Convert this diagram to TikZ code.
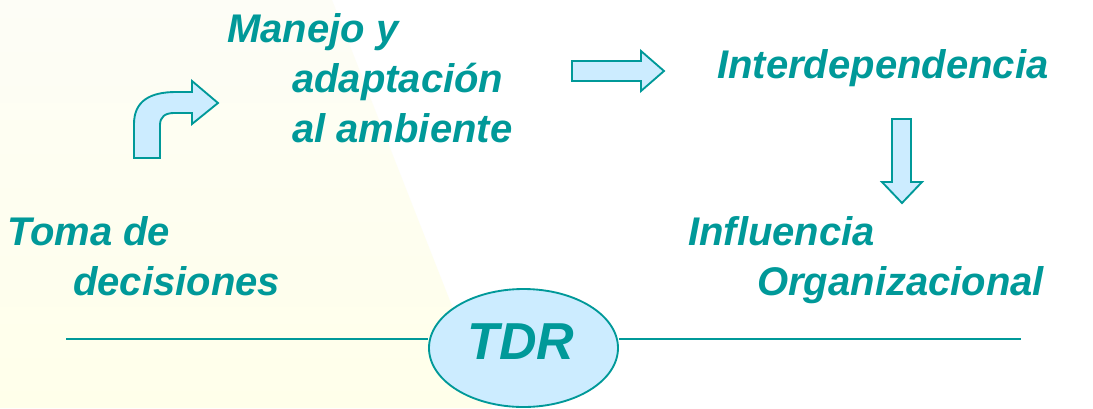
\documentclass[tikz,border=0pt]{standalone}
\usepackage{fontspec}
\setmainfont{Liberation Sans}
\usetikzlibrary{shapes.geometric}
\definecolor{tdrteal}{RGB}{0,153,153}
\definecolor{tdrblue}{RGB}{204,236,255}
\definecolor{creamtop}{RGB}{253,253,246}
\definecolor{creambot}{RGB}{255,255,234}

\begin{document}
\begin{tikzpicture}[x=0.75pt,y=-0.75pt,
    txt/.style={anchor=base west,inner sep=0pt,text=tdrteal,%
      font=\fontsize{30}{36}\selectfont\bfseries\itshape},
    blk/.style={draw=tdrteal,fill=tdrblue,line width=1.4pt,line join=miter}]
      \useasboundingbox (0,0) rectangle (1093,408) ;
      \fill[white] (0,0) rectangle (1093,408) ;
      \shade[top color=creamtop,bottom color=creambot] %
      (0,0)--(332,0)--(492,408)--(0,408)--cycle ;
      % texts
      \node[txt] (manejoA) at (227,42) {Manejo y} ;
      \node[txt] (manejoB) at (292,92) {adaptación} ;
      \node[txt] (manejoC) at (292,142) {al ambiente} ;
      \node[txt] (tomaA) at (7,245) {Toma de} ;
      \node[txt] (tomaB) at (73,295) {decisiones} ;
      \node[txt] (inter) at (717,78) {Interdependencia} ;
      \node[txt] (influA) at (688,245) {Influencia} ;
      \node[txt] (influB) at (757,295) {Organizacional} ;
      % block arrows
      \draw[blk] (134,158)--(134,124) .. controls (134,101) and (150,92) .. (176,92) %
      --(192,92)--(192,81)--(218,103)--(192,124)--(192,113)--(174,113) %
      .. controls (165,113) and (160,117) .. (160,125)--(160,158)--cycle ;
      \draw[blk] (572,61)--(641,61)--(641,51)--(664,71)--(641,91)--(641,81)--(572,81)--cycle ;
      \draw[blk] (892,119)--(911,119)--(911,182)--(922,182)--(902,203)--(882,182)--(892,182)--cycle ;
      % TDR
      \node[ellipse,draw=tdrteal,fill=tdrblue,line width=1.4pt,%
      minimum width=141.75pt,minimum height=88.5pt] (tdr) at (523.5,348) {} ;
      \node[inner sep=0pt,text=tdrteal,font=\fontsize{39}{45}\selectfont\bfseries\itshape] %
      (tdrtext) at (521,342) {TDR} ;
      \coordinate (lineL) at (66,339) ;
      \coordinate (lineR) at (1021,339) ;
      \draw[tdrteal,line width=1.4pt] (lineL)--(lineL -| tdr.west) ;
      \draw[tdrteal,line width=1.4pt] (lineR -| tdr.east)--(lineR) ;
    \end{tikzpicture}
\end{document}
